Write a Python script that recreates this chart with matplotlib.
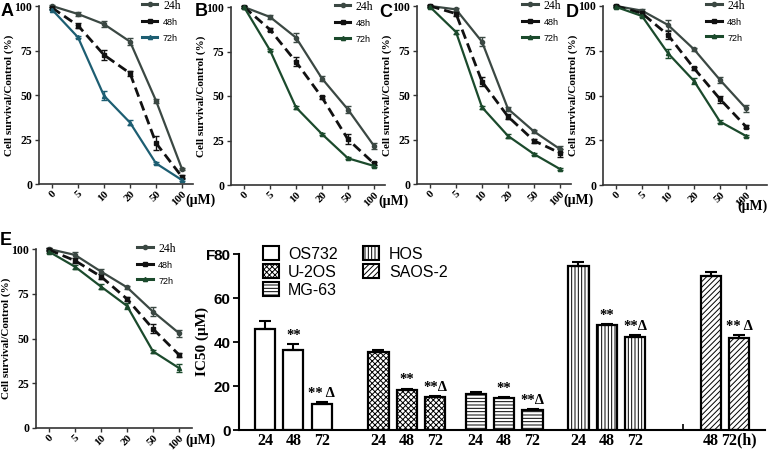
import numpy as np
import matplotlib
matplotlib.use("Agg")
import matplotlib.pyplot as plt
from matplotlib.patches import Patch
from matplotlib.lines import Line2D

plt.rcParams['hatch.linewidth'] = 0.7

# ---- dose-response data (panels A-E) ----
doses = ['0', '5', '10', '20', '50', '100']
series = ['24h', '48h', '72h']

surv_A = {'24h': [100, 95.5, 89.8, 80.0, 46.8, 8.4],
          '48h': [99.0, 89.0, 72.5, 62.2, 23.0, 4.0],
          '72h': [98.0, 82.4, 49.6, 34.5, 11.6, 2.2]}
err_A = {'24h': [0.5, 1.2, 1.5, 1.8, 1.2, 0.8],
         '48h': [0.5, 1.5, 2.8, 1.5, 3.8, 0.8],
         '72h': [0.5, 0.5, 2.5, 1.5, 0.6, 0.5]}

surv_B = {'24h': [100, 94.4, 82.8, 59.8, 42.4, 22.0],
          '48h': [100, 87.3, 69.2, 49.2, 25.6, 12.1],
          '72h': [100, 75.7, 43.6, 28.6, 15.0, 10.7]}
err_B = {'24h': [0.5, 1.0, 2.5, 1.5, 2.0, 1.5],
         '48h': [0.5, 1.0, 2.5, 1.0, 2.8, 1.0],
         '72h': [0.5, 0.5, 1.0, 0.5, 0.5, 0.8]}

surv_C = {'24h': [100, 98.1, 79.9, 42.2, 29.5, 19.6],
          '48h': [100, 95.7, 57.5, 37.9, 24.3, 17.4],
          '72h': [99.5, 85.4, 43.1, 27.0, 16.8, 8.4]}
err_C = {'24h': [0.5, 0.8, 2.5, 1.0, 0.8, 1.5],
         '48h': [0.5, 1.2, 2.5, 1.5, 1.2, 2.0],
         '72h': [0.5, 1.0, 1.0, 1.2, 0.5, 0.5]}

surv_D = {'24h': [100, 97.4, 89.4, 75.8, 58.7, 42.8],
          '48h': [100, 95.9, 83.8, 65.2, 48.0, 32.6],
          '72h': [99.5, 94.4, 73.6, 58.1, 35.4, 27.4]}
err_D = {'24h': [0.5, 1.0, 3.0, 0.8, 1.5, 2.0],
         '48h': [0.5, 1.0, 2.5, 1.0, 2.0, 1.0],
         '72h': [0.5, 0.8, 2.5, 1.5, 1.0, 0.5]}

surv_E = {'24h': [100, 96.7, 87.4, 78.6, 65.0, 53.0],
          '48h': [99.5, 93.5, 84.6, 72.1, 55.4, 40.9],
          '72h': [98.5, 90.1, 79.0, 68.2, 42.8, 33.5]}
err_E = {'24h': [0.8, 1.5, 1.5, 1.0, 2.5, 2.0],
         '48h': [0.8, 1.5, 1.5, 1.0, 2.5, 1.0],
         '72h': [1.0, 1.2, 1.5, 1.5, 0.8, 2.0]}

# ---- IC50 data (panel F) ----
cell_lines = ['OS732', 'U-2OS', 'MG-63', 'HOS', 'SAOS-2']
ic50_times = [['24', '48', '72'], ['24', '48', '72'], ['24', '48', '72'],
              ['24', '48', '72'], ['48', '72']]
ic50_vals = [[45.8, 36.4, 11.6], [35.5, 18.3, 15.0], [16.5, 14.4, 9.1],
             [74.5, 47.6, 42.5], [70.0, 41.8]]
ic50_err = [[3.6, 2.7, 1.0], [0.7, 0.5, 0.5], [1.0, 0.7, 0.3],
            [1.8, 0.6, 0.6], [1.6, 1.2]]
ic50_sig = [['', '**', '** \u0394'], ['', '**', '**\u0394'], ['', '**', '**\u0394'],
            ['', '**', '**\u0394'], ['', '** \u0394']]
hatches = ['', 'xxxxxx', '-----', '|||||', '//////']

W, H = 774, 453
fig = plt.figure(figsize=(W / 100, H / 100), dpi=100)


def px_axes(l, t, r, b):
    return fig.add_axes([l / W, 1 - b / H, (r - l) / W, (b - t) / H])


SERIF = 'Liberation Serif'
SANS = 'Liberation Sans'
c24 = '#3b4843'
c48 = '#111111'


def dose_panel(box, data, err, c72, letter, letter_xy, um_xy, leg_x):
    l, t, r, b = box
    ax = px_axes(l, t, r, b)
    x = np.arange(len(doses))
    styles = {'24h': dict(color=c24, ls='-', marker='o', ms=3, lw=1.6),
              '48h': dict(color=c48, ls=(0, (3.5, 1.8)), marker='s', ms=3, lw=2.0),
              '72h': dict(color=c72, ls='-', marker='^', ms=3, lw=1.6)}
    handles = []
    for s in series:
        st = styles[s]
        ax.errorbar(x, data[s], yerr=err[s], capsize=2, elinewidth=1.0,
                    capthick=1.0, clip_on=False, **st)
        hs = dict(st)
        hs['ls'] = '-'
        hs['lw'] = 2.2
        handles.append(Line2D([], [], label=s, **hs))
    ax.set_ylim(0, 100)
    ax.set_xlim(-0.5, (r - l) / 26 - 0.5)
    ax.set_yticks([0, 25, 50, 75, 100])
    ax.set_xticks(x)
    ax.set_xticklabels(doses, rotation=45, ha='right', va='top',
                       rotation_mode='anchor')
    for lab in ax.get_yticklabels():
        lab.set_fontfamily(SERIF)
        lab.set_fontweight('bold')
        lab.set_fontsize(8.5)
    for lab in ax.get_xticklabels():
        lab.set_fontfamily(SERIF)
        lab.set_fontweight('bold')
        lab.set_fontsize(8)
    ax.tick_params(length=3, width=1.0, color='#333333', pad=2)
    ax.tick_params(axis='x', pad=1)
    for sp in ['top', 'right']:
        ax.spines[sp].set_visible(False)
    for sp in ['left', 'bottom']:
        ax.spines[sp].set_linewidth(1.2)
        ax.spines[sp].set_color('#333333')
    ax.set_ylabel('Cell survival/Control (%)', fontfamily=SERIF,
                  fontweight='bold', fontsize=8)
    ax.yaxis.set_label_coords(-25 / (r - l), 0.5)
    ax.text(um_xy[0], um_xy[1], '(\u03bcM)', transform=ax.transAxes,
            fontfamily=SERIF, fontweight='bold', fontsize=10,
            ha='left', va='center')
    leg = ax.legend(handles=handles, loc='upper left',
                    bbox_to_anchor=(leg_x, 1.04),
                    frameon=False, handlelength=1.1, handletextpad=0.4,
                    labelspacing=0.3, borderpad=0, borderaxespad=0)
    for i, txt in enumerate(leg.get_texts()):
        if i == 0:
            txt.set_fontfamily(SERIF)
            txt.set_fontsize(8.5)
        else:
            txt.set_fontfamily(SANS)
            txt.set_fontsize(6.5)
    fig.text(letter_xy[0] / W, 1 - letter_xy[1] / H, letter, fontfamily=SANS,
             fontweight='bold', fontsize=13, ha='left', va='top')
    return ax


dose_panel((39, 6, 193, 184), surv_A, err_A, '#1d5e72', 'A', (1, 3),
           (0.95, -0.09), 0.67)
dose_panel((231, 7, 385, 185), surv_B, err_B, '#1b4a2c', 'B', (195, 3),
           (0.955, -0.09), 0.675)
dose_panel((417, 6, 571, 184), surv_C, err_C, '#1b4a2c', 'C', (379, 4),
           (0.95, -0.09), 0.685)
dose_panel((603, 6, 767, 185), surv_D, err_D, '#1b4a2c', 'D', (566, 4),
           (0.82, -0.12), 0.63)
dose_panel((36, 249, 192, 428), surv_E, err_E, '#1b4a2c', 'E', (0, 232),
           (0.955, -0.07), 0.65)

# ---- panel F ----
axF = px_axes(239, 254, 765, 430)
group_start = [0, 4.2, 7.8, 11.6, 15.45]
step = 1.05
bw = 0.75
tick_pos, tick_lab = [], []
for g, line in enumerate(cell_lines):
    offs = 1 if len(ic50_vals[g]) == 2 else 0
    if offs:
        tick_pos.append(group_start[g])
        tick_lab.append('')
    for k, v in enumerate(ic50_vals[g]):
        xpos = group_start[g] + (k + offs) * step
        e = ic50_err[g][k]
        axF.bar(xpos, v, width=bw, color='white', edgecolor='black',
                linewidth=1.6, hatch=hatches[g], zorder=2)
        axF.errorbar(xpos, v, yerr=[[0], [e]], color='black', capsize=4,
                     elinewidth=1.5, capthick=1.5, zorder=3)
        if ic50_sig[g][k]:
            axF.text(xpos, v + e + 1.0, ic50_sig[g][k], ha='center',
                     va='bottom', fontfamily=SERIF, fontweight='bold',
                     fontsize=10.5)
        tick_pos.append(xpos)
        tick_lab.append(ic50_times[g][k])
tick_lab[-1] = '72(h)'
axF.set_xticks(tick_pos)
axF.set_xticklabels(tick_lab)
axF.set_xlim(-0.96, 18.5)
axF.set_ylim(0, 80)
axF.set_yticks([0, 20, 40, 60, 80])
axF.set_axisbelow(True)
for lab in axF.get_xticklabels():
    lab.set_fontfamily(SERIF)
    lab.set_fontweight('bold')
    lab.set_fontsize(11.5)
for lab in axF.get_yticklabels():
    lab.set_fontfamily(SANS)
    lab.set_fontweight('bold')
    lab.set_fontsize(11)
axF.tick_params(axis='x', direction='in', length=4, width=1.2, pad=2)
axF.tick_params(axis='y', direction='out', length=4, width=1.3, pad=2)
for sp in ['top', 'right']:
    axF.spines[sp].set_visible(False)
for sp in ['left', 'bottom']:
    axF.spines[sp].set_linewidth(1.5)
axF.set_ylabel('IC50 (\u03bcM)', fontfamily=SERIF, fontweight='bold',
               fontsize=11)
axF.yaxis.set_label_coords(-30 / 526, 0.5)
handles = [Patch(facecolor='white', edgecolor='black', hatch=h, linewidth=1.5,
                 label=n) for n, h in zip(cell_lines, hatches)]
legF = axF.legend(handles=handles, ncol=2, loc='upper left',
                  bbox_to_anchor=(0.045, 1.045), frameon=False,
                  handlelength=1.0, handleheight=1.0, handletextpad=0.6,
                  labelspacing=0.15, columnspacing=1.6, borderpad=0,
                  borderaxespad=0, prop={'family': SANS, 'size': 11.5})
fig.text(206 / W, 1 - 249 / H, 'F', fontfamily=SANS, fontweight='bold',
         fontsize=11, ha='left', va='top')

fig.savefig('out.png', dpi=100)
